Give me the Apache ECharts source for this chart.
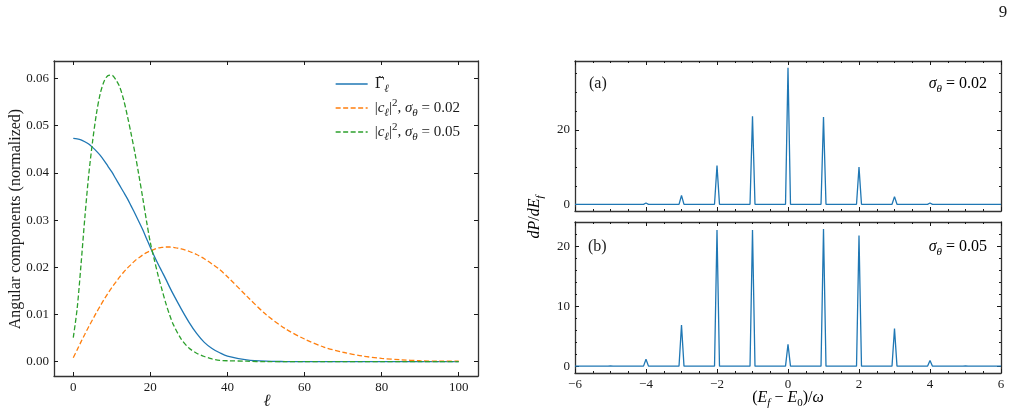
<!DOCTYPE html>
<html>
<head>
<meta charset="UTF-8">
<title>Angular components and energy spectra</title>
<script src="https://cdn.jsdelivr.net/npm/echarts@6/dist/echarts.min.js"></script>
<style>
  html, body { margin: 0; padding: 0; background: #fff; }
  #main { width: 1019px; height: 417px; }
</style>
</head>
<body>
<div id="main"></div>
<script type="text/javascript">
// ---- left panel: angular components vs l ----
const ell = [0, 1, 2, 3, 4, 5, 6, 7, 8, 9, 10, 11, 12, 13, 14, 15, 16, 17, 18, 19, 20,
    21, 22, 23, 24, 25, 26, 28, 30, 32, 34, 36, 38, 40, 45, 50, 55, 60, 65, 70, 75, 80, 85, 90, 95, 100];
const gammaTilde = [0.0473, 0.0472, 0.0470, 0.0466, 0.0461, 0.0454, 0.0446, 0.0437, 0.0426, 0.0414, 0.0402,
    0.0388, 0.0374, 0.0360, 0.0346, 0.0330, 0.0314, 0.0297, 0.0280, 0.0261, 0.0242,
    0.0224, 0.0207, 0.0191, 0.0175, 0.0158, 0.0142, 0.0112, 0.0084, 0.0060, 0.0041, 0.0028, 0.0019, 0.0012,
    0.0004, 0.0001, 0.00003, 0, 0, 0, 0, 0, 0, 0, 0, 0];
const c2Sigma002 = [0.00085, 0.0025, 0.0042, 0.0058, 0.0074, 0.0089, 0.0104, 0.0118, 0.0132, 0.0145, 0.0157,
    0.0168, 0.0179, 0.0189, 0.0198, 0.0206, 0.0214, 0.0220, 0.0226, 0.0231, 0.0235,
    0.0238, 0.0241, 0.0242, 0.0243, 0.0243, 0.0242, 0.0239, 0.0234, 0.0227, 0.0218, 0.0207, 0.0195, 0.0180,
    0.0139, 0.0100, 0.0070, 0.0048, 0.0031, 0.0020, 0.0012, 0.0007, 0.0004, 0.0002, 0.0001, 0.0001];
const c2Sigma005 = [0.0051, 0.0112, 0.0205, 0.0305, 0.0395, 0.0466, 0.0525, 0.0568, 0.0594, 0.0606, 0.0607,
    0.0598, 0.0583, 0.0557, 0.0522, 0.0483, 0.0442, 0.0396, 0.0348, 0.0298, 0.0252,
    0.0217, 0.0183, 0.0153, 0.0124, 0.0099, 0.0078, 0.0048, 0.0029, 0.0018, 0.0011, 0.0006, 0.0003, 0.0002,
    0.0001, 0, 0, 0, 0, 0, 0, 0, 0, 0, 0, 0];
const leftXTicks = [0, 20, 40, 60, 80, 100];
const leftYTicks = [0, 0.01, 0.02, 0.03, 0.04, 0.05, 0.06];

// ---- right panels: dP/dE_f spectra ----
const peakCenters = [-5, -4, -3, -2, -1, 0, 1, 2, 3, 4, 5];
const peaksA = [0.05, 0.4, 2.4, 10.4, 23.6, 36.6, 23.4, 10.0, 2.1, 0.4, 0.05];   // sigma = 0.02
const peaksB = [0.1, 1.2, 6.9, 22.7, 22.7, 3.7, 22.9, 21.8, 6.3, 1.0, 0.1];      // sigma = 0.05
const baseA = 0.05, baseB = 0.05;
const aYTicks = [0, 20], aYMinor = [5, 10, 15, 25, 30, 35];
const bYTicks = [0, 10, 20], bYMinor = [2, 4, 6, 8, 12, 14, 16, 18, 22];

const F = 'Liberation Serif';
const INK = '#1a1a1a';
const FRAME = '#333';

function lineData(xs, ys) {
    return xs.map((x, i) => [x, ys[i]]);
}

// each peak: baseline - top - baseline
function spikeData(centers, heights, base) {
    const hw = 0.07;
    let d = [[-6, base]];
    centers.forEach((c, k) => {
        d.push([c - hw, base], [c, heights[k]], [c + hw, base]);
    });
    d.push([6, base]);
    return d;
}

function richSet(fs) {
    const s = Math.round(fs * 0.7);
    return {
        r: {fontFamily: F, fontSize: fs, lineHeight: fs + 6, verticalAlign: 'middle', color: INK},
        g: {fontFamily: 'DejaVu Serif', fontSize: fs - 1, lineHeight: fs + 6, verticalAlign: 'middle', color: INK},
        i: {fontFamily: F, fontSize: fs, lineHeight: fs + 6, verticalAlign: 'middle', fontStyle: 'italic', color: INK},
        sb: {fontFamily: F, fontSize: s, lineHeight: s, verticalAlign: 'bottom', fontStyle: 'italic', color: INK},
        sbr: {fontFamily: F, fontSize: s, lineHeight: s, verticalAlign: 'bottom', color: INK},
        sp: {fontFamily: F, fontSize: s, lineHeight: s, verticalAlign: 'top', color: INK}
    };
}

const minus = v => (v < 0 ? '\u2212' + (-v) : '' + v);

function tick(len, vals) {
    let t = {show: true, inside: true, length: len, lineStyle: {color: INK, width: 1}};
    if (vals) t.customValues = vals;
    return t;
}

function axis(grid, pos, opts) {
    return Object.assign({
        type: 'value', gridIndex: grid, position: pos,
        axisLine: {show: true, onZero: false, lineStyle: {color: FRAME, width: 1.3}},
        splitLine: {show: false},
        axisLabel: {show: false}
    }, opts);
}

const noLine = {show: false, onZero: false};
const minorX = {show: true, splitNumber: 4, length: 2, lineStyle: {color: INK, width: 1}};
const tickFont = {fontFamily: F, fontSize: 13, color: INK};
const LMIN = -0.00303, LMAX = 0.0637;
const AMIN = -1.74, AMAX = 38.4;
const BMIN = -1.09, BMAX = 24.05;

const xAxes = [
    axis(0, 'bottom', {min: -5, max: 105, axisTick: tick(4, leftXTicks),
        axisLabel: Object.assign({show: true, margin: 5, customValues: leftXTicks}, tickFont)}),
    axis(0, 'top', {min: -5, max: 105, axisTick: tick(4, leftXTicks)}),
    axis(1, 'bottom', {min: -6, max: 6, interval: 2, axisTick: tick(4), minorTick: minorX}),
    axis(1, 'top', {min: -6, max: 6, interval: 2, axisTick: tick(4), minorTick: minorX}),
    axis(2, 'bottom', {min: -6, max: 6, interval: 2, axisTick: tick(4), minorTick: minorX,
        axisLabel: Object.assign({show: true, margin: 5, formatter: minus}, tickFont)}),
    axis(2, 'top', {min: -6, max: 6, interval: 2, axisTick: tick(4), minorTick: minorX})
];

const yAxes = [
    axis(0, 'left', {min: LMIN, max: LMAX, axisTick: tick(4, leftYTicks),
        axisLabel: Object.assign({show: true, margin: 5, customValues: leftYTicks, formatter: v => v.toFixed(2)}, tickFont)}),
    axis(0, 'right', {min: LMIN, max: LMAX, axisTick: tick(4, leftYTicks)}),
    // panel (a)
    axis(1, 'left', {min: AMIN, max: AMAX, axisTick: tick(4, aYTicks),
        axisLabel: Object.assign({show: true, margin: 5, customValues: aYTicks}, tickFont)}),
    axis(1, 'right', {min: AMIN, max: AMAX, axisTick: tick(4, aYTicks)}),
    axis(1, 'left', {min: AMIN, max: AMAX, axisLine: noLine, axisTick: tick(2, aYMinor)}),
    axis(1, 'right', {min: AMIN, max: AMAX, axisLine: noLine, axisTick: tick(2, aYMinor)}),
    // panel (b)
    axis(2, 'left', {min: BMIN, max: BMAX, axisTick: tick(4, bYTicks),
        axisLabel: Object.assign({show: true, margin: 5, customValues: bYTicks}, tickFont)}),
    axis(2, 'right', {min: BMIN, max: BMAX, axisTick: tick(4, bYTicks)}),
    axis(2, 'left', {min: BMIN, max: BMAX, axisLine: noLine, axisTick: tick(2, bYMinor)}),
    axis(2, 'right', {min: BMIN, max: BMAX, axisLine: noLine, axisTick: tick(2, bYMinor)})
];

const legendText = {
    gamma: '{g|\u0393\u0303}{sb|\u2113}',
    s002: '{r||}{i|c}{sb|\u2113}{r||}{sp|2}{r|, }{i|\u03c3}{sb|\u03b8}{r| = 0.02}',
    s005: '{r||}{i|c}{sb|\u2113}{r||}{sp|2}{r|, }{i|\u03c3}{sb|\u03b8}{r| = 0.05}'
};

const myChart = echarts.init(document.getElementById('main'), null, {renderer: 'canvas'});

const option = {
    animation: false,
    backgroundColor: '#fff',
    grid: [
        {left: 54, top: 61, width: 424, height: 315},
        {left: 575, top: 61, width: 426, height: 150},
        {left: 575, top: 222, width: 426, height: 151}
    ],
    xAxis: xAxes,
    yAxis: yAxes,
    legend: {
        orient: 'vertical',
        left: 330, top: 72,
        itemWidth: 32, itemHeight: 12, itemGap: 3,
        itemStyle: {opacity: 0},
        lineStyle: {width: 1.3},
        data: ['gamma', 's002', 's005'],
        formatter: name => legendText[name],
        textStyle: {padding: [0, 0, 0, 2], rich: richSet(15)}
    },
    series: [
        {name: 'gamma', type: 'line', xAxisIndex: 0, yAxisIndex: 0, symbol: 'none',
            smooth: 0.3, data: lineData(ell, gammaTilde),
            lineStyle: {color: '#1f77b4', width: 1.3}, itemStyle: {color: '#1f77b4'}},
        {name: 's002', type: 'line', xAxisIndex: 0, yAxisIndex: 0, symbol: 'none',
            smooth: 0.3, data: lineData(ell, c2Sigma002),
            lineStyle: {color: '#ff7f0e', width: 1.3, type: [5, 2.5]}, itemStyle: {color: '#ff7f0e'}},
        {name: 's005', type: 'line', xAxisIndex: 0, yAxisIndex: 0, symbol: 'none',
            smooth: 0.3, data: lineData(ell, c2Sigma005),
            lineStyle: {color: '#2ca02c', width: 1.3, type: [5, 2.5]}, itemStyle: {color: '#2ca02c'}},
        {name: 'a', type: 'line', xAxisIndex: 2, yAxisIndex: 2, symbol: 'none',
            data: spikeData(peakCenters, peaksA, baseA),
            lineStyle: {color: '#1f77b4', width: 1.3}},
        {name: 'b', type: 'line', xAxisIndex: 4, yAxisIndex: 6, symbol: 'none',
            data: spikeData(peakCenters, peaksB, baseB),
            lineStyle: {color: '#1f77b4', width: 1.3}}
    ],
    graphic: [
        {type: 'text', x: 1003, y: 13, style: {text: '9', fontFamily: F, fontSize: 17, fill: INK, align: 'center', verticalAlign: 'middle'}},
        {type: 'text', x: 16, y: 219, rotation: Math.PI / 2,
            style: {text: 'Angular components (normalized)', fontFamily: F, fontSize: 16, fill: INK, align: 'center', verticalAlign: 'middle'}},
        {type: 'text', x: 267, y: 402, style: {text: '\u2113', fontFamily: F, fontSize: 17, fontStyle: 'italic', fill: INK, align: 'center', verticalAlign: 'middle'}},
        {type: 'text', x: 589, y: 84, style: {text: '(a)', fontFamily: F, fontSize: 16, fill: INK, align: 'left', verticalAlign: 'middle'}},
        {type: 'text', x: 588, y: 247, style: {text: '(b)', fontFamily: F, fontSize: 16, fill: INK, align: 'left', verticalAlign: 'middle'}},
        {type: 'text', x: 987, y: 84, style: {text: '{i|\u03c3}{sb|\u03b8}{r| = 0.02}', rich: richSet(16), align: 'right', verticalAlign: 'middle'}},
        {type: 'text', x: 987, y: 247, style: {text: '{i|\u03c3}{sb|\u03b8}{r| = 0.05}', rich: richSet(16), align: 'right', verticalAlign: 'middle'}},
        {type: 'text', x: 535, y: 217, rotation: Math.PI / 2,
            style: {text: '{i|dP}{r|/}{i|dE}{sb|f}', rich: richSet(16), align: 'center', verticalAlign: 'middle'}},
        {type: 'text', x: 788, y: 398,
            style: {text: '{r|(}{i|E}{sb|f}{r| \u2212 }{i|E}{sbr|0}{r|)/}{i|\u03c9}', rich: richSet(16), align: 'center', verticalAlign: 'middle'}}
    ]
};

myChart.setOption(option);
</script>
</body>
</html>
